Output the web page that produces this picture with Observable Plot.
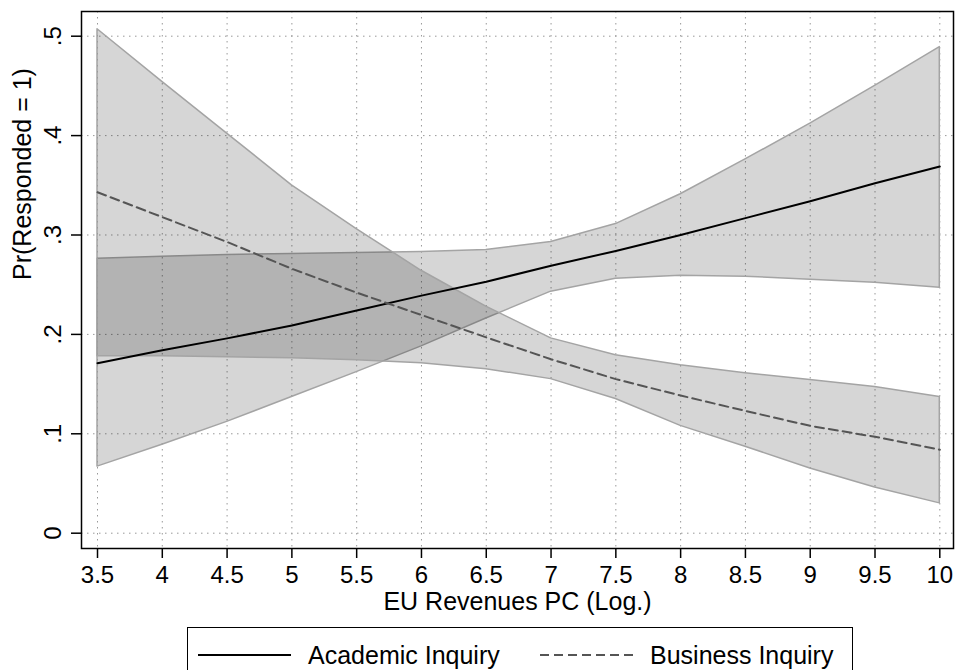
<!DOCTYPE html>
<html>
<head>
<meta charset="utf-8">
<script src="https://cdn.jsdelivr.net/npm/d3@7"></script>
<script src="https://cdn.jsdelivr.net/npm/@observablehq/plot@0.6"></script>
<style>
  html, body { margin: 0; padding: 0; background: white; }
  #wrap { position: relative; width: 956px; height: 670px; overflow: hidden; font-family: "Liberation Sans", Arial, sans-serif; }
  #legend { position: absolute; left: 187px; top: 627px; width: 666px; height: 70px; border: 1.5px solid black; box-sizing: border-box; background: white; }
  #legend .item { position: absolute; top: 12px; font-size: 25px; line-height: 30px; white-space: nowrap; display: flex; align-items: center; }
  #legend svg { margin-right: 17px; }
</style>
</head>
<body>
<div id="wrap">
  <div id="chart"></div>
  <div id="legend">
    <div class="item" style="left: 10px;">
      <svg width="93" height="4"><line x1="0" x2="93" y1="2" y2="2" stroke="black" stroke-width="2"/></svg>
      <span>Academic Inquiry</span>
    </div>
    <div class="item" style="left: 352px;">
      <svg width="93" height="4"><line x1="0" x2="93" y1="2" y2="2" stroke="#555" stroke-width="2" stroke-dasharray="9,5"/></svg>
      <span>Business Inquiry</span>
    </div>
  </div>
</div>
<script>
const xValues = [3.5, 4, 4.5, 5, 5.5, 6, 6.5, 7, 7.5, 8, 8.5, 9, 9.5, 10];
const academicMean  = [0.171, 0.184, 0.196, 0.209, 0.224, 0.239, 0.253, 0.269, 0.284, 0.300, 0.317, 0.334, 0.352, 0.369];
const academicLower = [0.067, 0.089, 0.112, 0.137, 0.162, 0.188, 0.216, 0.243, 0.256, 0.259, 0.258, 0.255, 0.252, 0.247];
const academicUpper = [0.276, 0.278, 0.280, 0.281, 0.282, 0.283, 0.285, 0.293, 0.311, 0.341, 0.376, 0.412, 0.450, 0.489];
const businessMean  = [0.343, 0.318, 0.293, 0.266, 0.242, 0.2195, 0.197, 0.175, 0.155, 0.1385, 0.123, 0.108, 0.097, 0.084];
const businessLower = [0.178, 0.178, 0.177, 0.176, 0.174, 0.171, 0.165, 0.155, 0.135, 0.108, 0.087, 0.065, 0.046, 0.030];
const businessUpper = [0.507, 0.454, 0.402, 0.350, 0.306, 0.264, 0.228, 0.196, 0.179, 0.169, 0.161, 0.154, 0.147, 0.137];
const xTicks = [3.5, 4, 4.5, 5, 5.5, 6, 6.5, 7, 7.5, 8, 8.5, 9, 9.5, 10];
const yTicks = [0, 0.1, 0.2, 0.3, 0.4, 0.5];
const xTitle = "EU Revenues PC (Log.)";
const yTitle = "Pr(Responded = 1)";

const rows = xValues.map((x, i) => ({
  x,
  am: academicMean[i], al: academicLower[i], au: academicUpper[i],
  bm: businessMean[i], bl: businessLower[i], bu: businessUpper[i]
}));

const yFmt = d => d === 0 ? "0" : String(+d.toFixed(1)).replace(/^0/, "");

const chart = Plot.plot({
  width: 956,
  height: 620,
  marginLeft: 81,
  marginRight: 3,
  marginTop: 11,
  marginBottom: 72,
  style: { fontFamily: "'Liberation Sans', Arial, sans-serif", fontSize: "24px", background: "white", overflow: "visible", color: "black" },
  x: { domain: [3.3765, 10.1057] },
  y: { domain: [-0.0154, 0.52485] },
  marks: [
    Plot.gridX(xTicks, { stroke: "#999", strokeOpacity: 1, strokeWidth: 1, strokeDasharray: "1.5,4.5" }),
    Plot.gridY(yTicks, { stroke: "#999", strokeOpacity: 1, strokeWidth: 1, strokeDasharray: "1.5,4.5" }),
    Plot.areaY(rows, { x: "x", y1: "al", y2: "au", fill: "black", fillOpacity: 0.16, stroke: "#a4a4a4", strokeWidth: 1.5 }),
    Plot.areaY(rows, { x: "x", y1: "bl", y2: "bu", fill: "black", fillOpacity: 0.16, stroke: "#a4a4a4", strokeWidth: 1.5 }),
    Plot.line(rows, { x: "x", y: "am", stroke: "black", strokeWidth: 2 }),
    Plot.line(rows, { x: "x", y: "bm", stroke: "#555", strokeWidth: 2, strokeDasharray: "9,5" }),
    Plot.frame({ stroke: "black", strokeWidth: 1.5 }),
    Plot.axisX(xTicks, { tickSize: 10, tickPadding: 7, fontSize: 24, strokeWidth: 1.5, label: null, tickFormat: d => String(d) }),
    Plot.axisY(yTicks, { tickSize: 10, tickPadding: 11, tickRotate: -90, fontSize: 24, strokeWidth: 1.5, label: null, tickFormat: yFmt }),
    Plot.text([xTitle], { frameAnchor: "bottom", dy: 61, lineAnchor: "bottom", fontSize: 25, fill: "black" }),
    Plot.text([yTitle], { frameAnchor: "left", dx: -51, rotate: -90, lineAnchor: "bottom", fontSize: 25, fill: "black" })
  ]
});
document.getElementById("chart").appendChild(chart);
</script>
</body>
</html>
